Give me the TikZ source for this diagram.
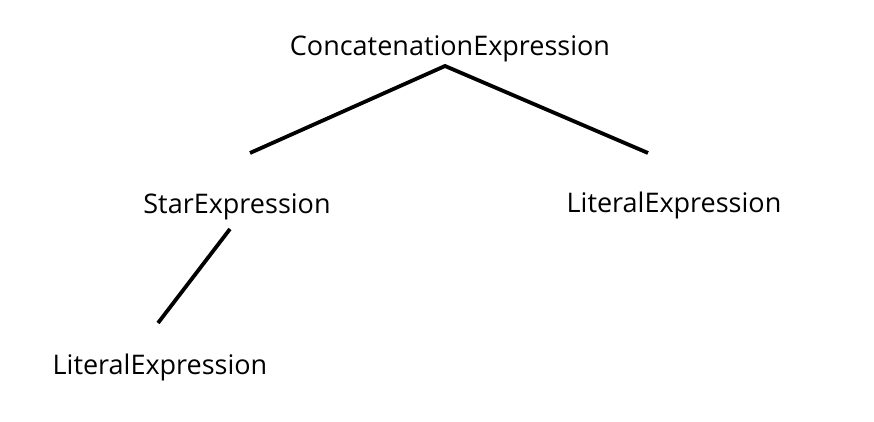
\documentclass[tikz,border=0pt]{standalone}
\usepackage{fontspec}
\setmainfont{Open Sans}
\begin{document}
\begin{tikzpicture}[x=1pt,y=1pt,
  lbl/.style={inner sep=0pt, font=\fontsize{27}{30}\selectfont, anchor=center},
  edge/.style={line width=3.8pt, black}]
\useasboundingbox (0,0) rectangle (874,421);
\node[lbl] (cat) at (450,372) {ConcatenationExpression};
\node[lbl] (star) at (237,214) {StarExpression};
\node[lbl] (lit1) at (674,216) {LiteralExpression};
\node[lbl] (lit2) at (160,54) {LiteralExpression};
\coordinate (top) at (445,355);
\coordinate (sl) at (250,268);
\coordinate (sr) at (648,268);
\coordinate (st) at (230,192);
\coordinate (lb) at (158,98);
\draw[edge] (sl) -- (top) -- (sr);
\draw[edge] (st) -- (lb);
\end{tikzpicture}
\end{document}
